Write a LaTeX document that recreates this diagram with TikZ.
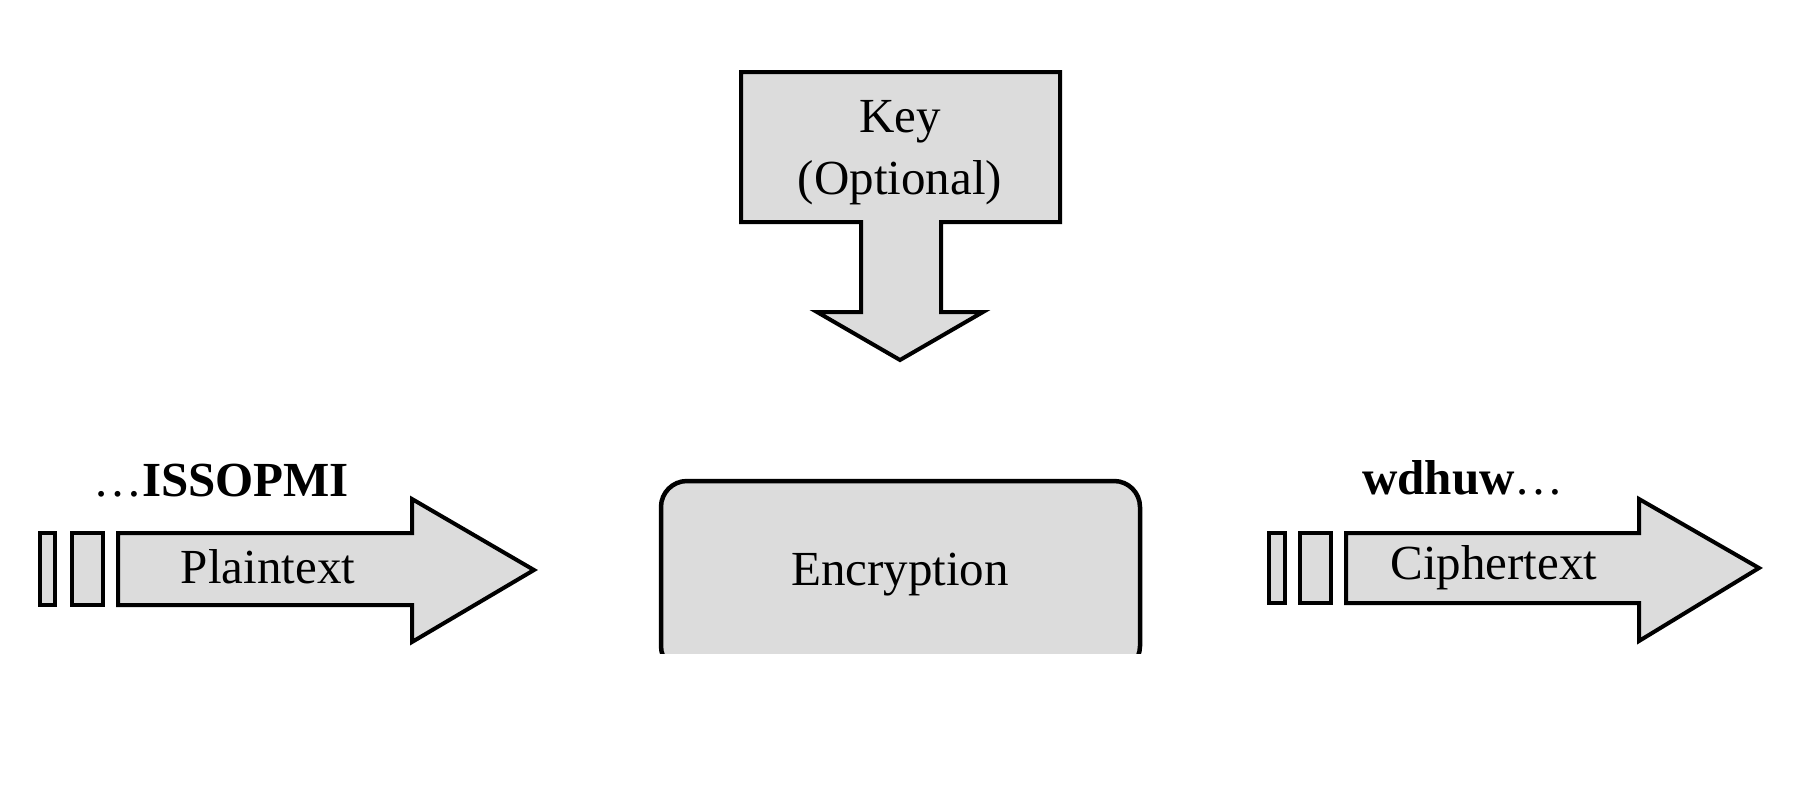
\documentclass[tikz,border=0pt]{standalone}
\usepackage{fontspec}
\setmainfont{Liberation Serif}
\definecolor{boxgray}{RGB}{220,220,220}
\begin{document}
\begin{tikzpicture}[x=1pt,y=-1pt,
  shapestyle/.style={draw=black,fill=boxgray,line width=4pt,line join=miter},
  lbl/.style={inner sep=0pt,anchor=base,font=\fontsize{49}{62}\selectfont}]
\useasboundingbox (0,0) rectangle (1810,804);
% Key arrow
\draw[shapestyle] (741,72) -- (1060,72) -- (1060,222) -- (941,222) -- (941,312) -- (983,312)
  -- (900,360) -- (817,312) -- (861,312) -- (861,222) -- (741,222) -- cycle;
\node[lbl] (key) at (900,132) {Key};
\node[lbl] (opt) at (900,194) {(Optional)};
% Encryption box (clipped at bottom)
\begin{scope}
\clip (640,460) rectangle (1160,653);
\draw[shapestyle,line width=4.5pt,rounded corners=26pt] (661,481) rectangle (1140,672);
\end{scope}
\node[lbl] (enc) at (900,585) {Encryption};
% Plaintext arrow
\draw[shapestyle] (40,533) rectangle (55,605);
\draw[shapestyle] (72,533) rectangle (103,605);
\draw[shapestyle] (118,533) -- (412,533) -- (412,499) -- (534,570) -- (412,642) -- (412,605) -- (118,605) -- cycle;
\node[lbl] (plain) at (268,583) {Plaintext};
\node[lbl] (pin) at (221,496) {…\textbf{ISSOPMI}};
% Ciphertext arrow
\draw[shapestyle] (1269,533) rectangle (1285,603);
\draw[shapestyle] (1300,533) rectangle (1331,603);
\draw[shapestyle] (1346,533) -- (1639,533) -- (1639,499) -- (1759,568) -- (1639,641) -- (1639,603) -- (1346,603) -- cycle;
\node[lbl] (ciph) at (1494,579) {Ciphertext};
\node[lbl] (cout) at (1463,494) {\textbf{wdhuw}…};
\end{tikzpicture}
\end{document}
